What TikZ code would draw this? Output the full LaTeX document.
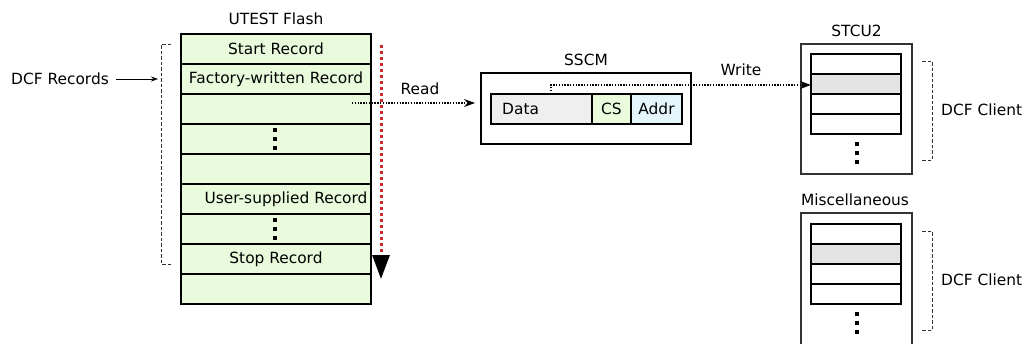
\documentclass[tikz,border=0pt]{standalone}
\usepackage{fontspec}
\setmainfont{DejaVu Sans}
\usetikzlibrary{arrows.meta}
\definecolor{flashgreen}{HTML}{E9FBDC}
\definecolor{cellgray}{HTML}{EFEFEF}
\definecolor{cellblue}{HTML}{E4F5FC}
\definecolor{rowgray}{HTML}{E4E4E4}
\definecolor{dotred}{HTML}{CC2A2A}
\definecolor{boxgray}{HTML}{333333}
\begin{document}
\begin{tikzpicture}[x=1pt,y=-1pt,
  font=\fontsize{15.4}{18}\selectfont,
  flashrow/.style={draw, line width=1.2pt, fill=flashgreen, minimum width=190pt, minimum height=30pt, inner sep=0pt, outer sep=0pt},
  cellbox/.style={draw, line width=1.2pt, minimum height=30pt, inner sep=0pt, outer sep=0pt},
  clientrow/.style={draw, line width=1.2pt, fill=white, minimum width=90pt, minimum height=20pt, inner sep=0pt, outer sep=0pt},
  outerbox/.style={draw=boxgray, line width=1.6pt, fill=white, inner sep=0pt, outer sep=0pt},
  title/.style={inner sep=1pt},
  bracketline/.style={draw=black!80, line width=0.8pt, dash pattern=on 3.5pt off 2pt},
  dotarrow/.style={draw, line width=1.4pt, dash pattern=on 1.4pt off 1.4pt, -{Stealth[length=11pt,width=8pt,line width=0pt]}},
  vdot/.style={fill=black},
]
\clip (0,0) rectangle (1024,343);

% ---------- UTEST Flash ----------
\node[title] (flasht) at (276,19) {UTEST Flash};
\node[flashrow] (r1) at (276,49) {Start Record};
\node[flashrow] (r2) at (276,79) {Factory-written Record};
\node[flashrow] (r3) at (276,109) {};
\node[flashrow] (r4) at (276,139) {};
\node[flashrow] (r5) at (276,169) {};
\node[flashrow] (r6) at (276,199) {};
\node[flashrow] (r7) at (276,229) {};
\node[flashrow] (r8) at (276,259) {Stop Record};
\node[flashrow] (r9) at (276,289) {};
\node[inner sep=0pt] (lab6) at (286,199) {User-supplied Record};
\foreach \y in {128,137,146} \fill[vdot] (273,\y) rectangle +(4,4);
\foreach \y in {218,227,236} \fill[vdot] (273,\y) rectangle +(4,4);

% red scan arrow
\coordinate (rs) at (381,45);
\coordinate (re) at (381,279);
\draw[dotred, line width=3pt, dash pattern=on 3pt off 3pt,
  -{Triangle[length=24pt,width=17pt,color=black,fill=black]}] (rs) -- (re);

% DCF Records bracket
\node[inner sep=0pt, anchor=west] (dcfr) at (11,79) {DCF Records};
\draw[bracketline] (171,44) -- (161,44) -- (161,264) -- (171,264);
\coordinate (dcfrtip) at (158,79);
\draw[line width=0.8pt, -{Stealth[length=7pt,width=5pt]}] ([xshift=7pt]dcfr.east) -- (dcfrtip);

% ---------- SSCM ----------
\node[title] (sscmt) at (586,60) {SSCM};
\node[outerbox, draw=black, minimum width=210pt, minimum height=71pt] (sscm) at (586,108.5) {};
\node[cellbox, fill=cellgray, minimum width=101pt] (data) at (541.5,109) {};
\node[inner sep=0pt, anchor=west] (datal) at (502,109) {Data};
\node[cellbox, fill=flashgreen, minimum width=39pt] (cs) at (611.5,109) {CS};
\node[cellbox, fill=cellblue, minimum width=51pt] (addr) at (656.5,109) {Addr};

% Read arrow
\coordinate (rd) at (352,103);
\draw[dotarrow, shorten >=6pt] (rd) -- (sscm.west |- rd);
\node (readl) at (420,89) {Read};

% ---------- STCU2 ----------
\node[title] (stcut) at (856.5,31) {STCU2};
\node[outerbox, minimum width=111pt, minimum height=130pt] (stcu) at (856.5,109) {};
\node[clientrow] (s1) at (856,64) {};
\node[clientrow, fill=rowgray] (s2) at (856,84) {};
\node[clientrow] (s3) at (856,104) {};
\node[clientrow] (s4) at (856,124) {};
\foreach \y in {142,151,160} \fill[vdot] (855,\y) rectangle +(4,4);
\draw[bracketline] (922,61) -- (932,61) -- (932,160) -- (922,160);
\node[inner sep=0pt, anchor=west] (cl1) at (941,110) {DCF Client};

% Write arrow
\draw[dotarrow] ([xshift=9.5pt]data.north) |- ([yshift=-1pt]s2.west);
\node (writel) at (741,70) {Write};

% ---------- Miscellaneous ----------
\node[title] (misct) at (855,200) {Miscellaneous};
\node[outerbox, minimum width=111pt, minimum height=147pt] (misc) at (856.5,286.5) {};
\node[clientrow] (m1) at (856,234) {};
\node[clientrow, fill=rowgray] (m2) at (856,254) {};
\node[clientrow] (m3) at (856,274) {};
\node[clientrow] (m4) at (856,294) {};
\foreach \y in {312,321,330} \fill[vdot] (855,\y) rectangle +(4,4);
\draw[bracketline] (922,231) -- (932,231) -- (932,330) -- (922,330);
\node[inner sep=0pt, anchor=west] (cl2) at (941,280) {DCF Client};
\end{tikzpicture}
\end{document}
